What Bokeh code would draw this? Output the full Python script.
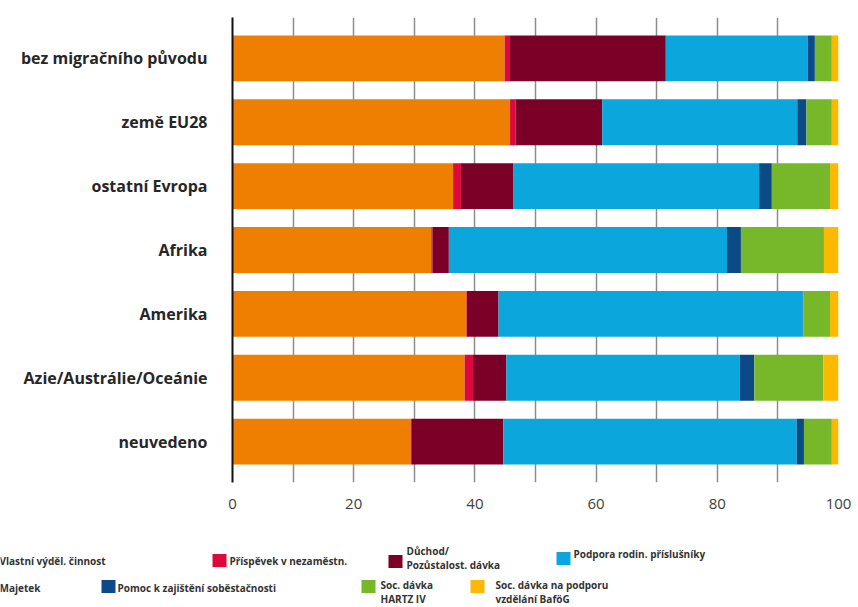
from bokeh.plotting import figure
from bokeh.layouts import column
from bokeh.models import ColumnDataSource, Range1d, FixedTicker
from bokeh.core.properties import value
from bokeh.embed import file_html
from bokeh.resources import INLINE

# --- data -------------------------------------------------------------
categories = [
    "bez migračního původu",
    "země EU28",
    "ostatní Evropa",
    "Afrika",
    "Amerika",
    "Azie/Austrálie/Oceánie",
    "neuvedeno",
]

series_names = [
    "Vlastní výděl. činnost",
    "Příspěvek v nezaměstn.",
    "Důchod/\nPozůstalost. dávka",
    "Podpora rodin. příslušníky",
    "Majetek",
    "Pomoc k zajištění soběstačnosti",
    "Soc. dávka\nHARTZ IV",
    "Soc. dávka na podporu\nvzdělání BaföG",
]

vlastni = [44.9, 45.8, 36.4, 32.8, 38.6, 38.3, 29.4]
prispevek = [0.9, 0.9, 1.3, 0.2, 0.1, 1.4, 0.1]
duchod = [25.7, 14.3, 8.6, 2.7, 5.2, 5.5, 15.2]
podpora = [23.4, 32.2, 40.6, 45.9, 50.2, 38.5, 48.4]
majetek = [0.0, 0.0, 0.0, 0.0, 0.0, 0.0, 0.0]
pomoc = [1.2, 1.5, 2.1, 2.3, 0.1, 2.4, 1.2]
hartz = [2.8, 4.2, 9.6, 13.7, 4.4, 11.4, 4.6]
bafog = [1.1, 1.1, 1.4, 2.4, 1.4, 2.5, 1.1]

x_tick_values = [0, 20, 40, 60, 80, 100]
x_grid_values = [0, 10, 20, 30, 40, 50, 60, 70, 80, 90, 100]

# --- styling ----------------------------------------------------------
colors = ["#EE7F00", "#DC0A3C", "#7B0028", "#0AA6DC",
          "#FFFFFF", "#0B4A85", "#77B82A", "#FBBA00"]

W, H_MAIN, H_LEG = 858, 522, 85

keys = ["s%d" % i for i in range(len(series_names))]
data = dict(idx=list(range(len(categories))))
for k, vals in zip(keys, [vlastni, prispevek, duchod, podpora,
                          majetek, pomoc, hartz, bafog]):
    data[k] = vals
source = ColumnDataSource(data)

n = len(categories)
p = figure(width=W, height=H_MAIN, output_backend="svg", toolbar_location=None,
           x_range=Range1d(0, 100), y_range=Range1d(n - 1 + 0.64, -0.64),
           min_border_left=232, min_border_right=20,
           min_border_top=17, min_border_bottom=40)
p.outline_line_color = None
p.background_fill_color = "white"
p.border_fill_color = "white"
p.frame_align = False

p.hbar_stack(keys, y="idx", height=0.72, color=colors, source=source,
             line_color=None)

# x axis: labels every 20, grid every 10
p.xaxis.ticker = FixedTicker(ticks=x_tick_values)
p.xaxis.axis_line_color = None
p.xaxis.major_tick_line_color = None
p.xaxis.minor_tick_line_color = None
p.xaxis.major_label_text_font = "Open Sans"
p.xaxis.major_label_text_font_size = "15px"
p.xaxis.major_label_text_color = "#404040"
p.xaxis.major_label_standoff = 10

p.xgrid.ticker = FixedTicker(ticks=x_grid_values)
p.xgrid.grid_line_color = "#8c8c8c"
p.xgrid.grid_line_width = 1.5
p.ygrid.grid_line_color = None

# y axis: category names
p.yaxis.ticker = FixedTicker(ticks=list(range(n)))
p.yaxis.major_label_overrides = {i: c for i, c in enumerate(categories)}
p.yaxis.axis_line_color = "#111111"
p.yaxis.axis_line_width = 2
p.yaxis.major_tick_line_color = None
p.yaxis.minor_tick_line_color = None
p.yaxis.major_label_text_font = "Open Sans"
p.yaxis.major_label_text_font_style = "bold"
p.yaxis.major_label_text_font_size = "16px"
p.yaxis.major_label_text_color = "#262626"
p.yaxis.major_label_standoff = 19

# --- legend panel (screen-like coordinates, y grows downward) -----------
swatch_x = [-10, 219, 395, 563, -10, 108, 368, 477]
swatch_y = [38, 38, 39, 36, 65, 64, 64, 64]
label_x = [-1, 229, 406, 573, -1, 117, 380, 495]
label_y = [38, 38, 35, 31, 65, 65, 69, 69]

leg = figure(width=W, height=H_LEG, output_backend="svg", toolbar_location=None,
             x_range=Range1d(0, W), y_range=Range1d(H_LEG, 0),
             min_border=0, min_border_left=0, min_border_right=0,
             min_border_top=0, min_border_bottom=0)
leg.axis.visible = False
leg.grid.visible = False
leg.outline_line_color = None
leg.frame_align = False

leg.rect(x=swatch_x, y=swatch_y, width=14, height=13, fill_color=colors,
         line_color=None)

tx, ty, tt = [], [], []
for name, lx, ly in zip(series_names, label_x, label_y):
    lines = name.split("\n")
    top = ly - 7 * (len(lines) - 1)
    for j, line in enumerate(lines):
        tx.append(lx)
        ty.append(top + 14 * j)
        tt.append(line)
leg.text(x=tx, y=ty, text=tt, text_font=value("Open Sans"),
         text_font_style="bold", text_font_size="10px", text_color="#333333",
         text_baseline="middle", text_align="left")

layout = column(p, leg, spacing=0)
open("out.html", "w").write(file_html(layout, INLINE))
